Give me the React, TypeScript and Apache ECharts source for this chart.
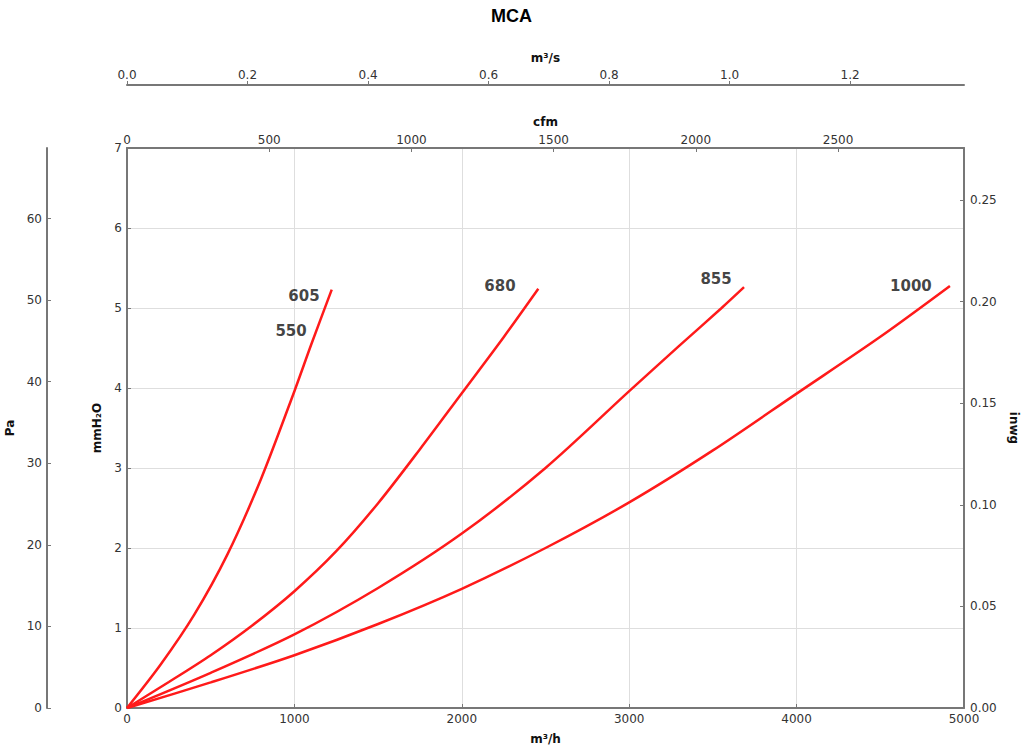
import React, { useEffect, useRef } from "react";
import * as echarts from "echarts";

// Flow (m³/h) vs pressure (mmH2O)
const curve605: number[][] = [
  [0, 0], [200, 0.54], [400, 1.16], [600, 1.92], [800, 2.86], [1000, 3.96],
  [1100, 4.54], [1223, 5.23],
];
const curve680: number[][] = [
  [0, 0], [250, 0.325], [500, 0.66], [750, 1.035], [1000, 1.46], [1250, 1.96],
  [1500, 2.56], [1750, 3.235], [2000, 3.935], [2250, 4.635], [2457, 5.24],
];
const curve855: number[][] = [
  [0, 0], [500, 0.44], [1000, 0.92], [1500, 1.5], [2000, 2.18], [2500, 3.0],
  [3000, 3.96], [3300, 4.53], [3552, 5.0], [3686, 5.26],
];
const curve1000: number[][] = [
  [0, 0], [500, 0.32], [1000, 0.66], [1500, 1.05], [2000, 1.49], [2500, 2.0],
  [3000, 2.57], [3500, 3.22], [4000, 3.93], [4500, 4.64], [4916, 5.275],
];
const curves = [curve605, curve680, curve855, curve1000];

// Curve annotations (text, m³/h, mmH2O)
const labelTexts = ["605", "550", "680", "855", "1000"];
const labelFlows = [1057, 980, 2228, 3519, 4683];
const labelPressures = [5.15, 4.71, 5.275, 5.36, 5.275];

// Axis ranges / unit conversions
const flowMax = 5000; // m³/h
const flowInterval = 1000;
const pressureMax = 7; // mmH2O
const M3H_PER_CFM = 1.69901;
const M3H_PER_M3S = 3600;
const PA_PER_MMH2O = 9.80665;
const MMH2O_PER_INWG = 25.4;

const FONT = "DejaVu Sans";
const axisColor = "#777";
const labelColor = "#333";

export default function App() {
  const ref = useRef<HTMLDivElement>(null);
  useEffect(() => {
    if (!ref.current) return;
    const chart = echarts.init(ref.current, undefined, { renderer: "svg" });
    const axisLine = { show: true, onZero: false, lineStyle: { color: axisColor, width: 2 } };
    const axisTick = { show: true, inside: true, length: 4, lineStyle: { color: axisColor, width: 1 } };
    const axisLabel = { color: labelColor, fontSize: 12, fontFamily: FONT };
    const nameTextStyle = { color: "#111", fontSize: 12, fontWeight: "bold", fontFamily: FONT };
    const plain = (v: number) => String(v);

    const option: any = {
      animation: false,
      backgroundColor: "#fff",
      title: {
        text: "MCA",
        left: "center",
        top: 2,
        textStyle: { fontSize: 18, fontWeight: "bold", fontFamily: "Liberation Sans", color: "#000" },
      },
      grid: {
        left: 127, right: 59, top: 148, bottom: 40,
        containLabel: false, outerBoundsMode: "none",
      },
      xAxis: [
        {
          type: "value",
          position: "bottom",
          min: 0,
          max: flowMax,
          interval: flowInterval,
          name: "m³/h",
          nameLocation: "middle",
          nameGap: 25,
          nameTextStyle,
          axisLine,
          axisTick,
          axisLabel: { ...axisLabel, margin: 5, formatter: plain },
          splitLine: { show: true, lineStyle: { color: "#dedede", width: 1 } },
        },
        {
          type: "value",
          position: "top",
          min: 0,
          max: flowMax / M3H_PER_CFM,
          interval: 500,
          name: "cfm",
          nameLocation: "middle",
          nameGap: 20,
          nameTextStyle,
          axisLine,
          axisTick,
          axisLabel: { ...axisLabel, margin: 2, showMaxLabel: false, formatter: plain },
          splitLine: { show: false },
        },
        {
          type: "value",
          position: "top",
          offset: 63,
          min: 0,
          max: flowMax / M3H_PER_M3S,
          interval: 0.2,
          name: "m³/s",
          nameLocation: "middle",
          nameGap: 21,
          nameTextStyle,
          axisLine,
          axisTick: { ...axisTick, inside: false },
          axisLabel: {
            ...axisLabel,
            margin: 4,
            showMaxLabel: false,
            formatter: (v: number) => v.toFixed(1),
          },
          splitLine: { show: false },
        },
      ],
      yAxis: [
        {
          type: "value",
          position: "left",
          min: 0,
          max: pressureMax,
          interval: 1,
          name: "mmH₂O",
          nameLocation: "middle",
          nameGap: 14,
          nameTextStyle,
          axisLine,
          axisTick,
          axisLabel: { ...axisLabel, margin: 5 },
          splitLine: { show: true, lineStyle: { color: "#dedede", width: 1 } },
        },
        {
          type: "value",
          position: "left",
          offset: 80,
          min: 0,
          max: pressureMax * PA_PER_MMH2O,
          interval: 10,
          name: "Pa",
          nameLocation: "middle",
          nameGap: 23,
          nameTextStyle,
          axisLine,
          axisTick,
          axisLabel: { ...axisLabel, margin: 5, showMaxLabel: false },
          splitLine: { show: false },
        },
        {
          type: "value",
          position: "right",
          min: 0,
          max: pressureMax / MMH2O_PER_INWG,
          interval: 0.05,
          name: "inwg",
          nameLocation: "middle",
          nameGap: 42,
          nameRotate: -90,
          nameTextStyle,
          axisLine,
          axisTick,
          axisLabel: {
            ...axisLabel,
            margin: 6,
            showMaxLabel: false,
            formatter: (v: number) => v.toFixed(2),
          },
          splitLine: { show: false },
        },
      ],
      series: [
        ...curves.map((c, i) => ({
          type: "line",
          name: labelTexts[i],
          xAxisIndex: 0,
          yAxisIndex: 0,
          data: c,
          smooth: 0.3,
          symbol: "none",
          lineStyle: { color: "#ff1a1a", width: 2.5 },
          z: 3,
        })),
        {
          type: "scatter",
          xAxisIndex: 0,
          yAxisIndex: 0,
          symbolSize: 0,
          data: labelTexts.map((t, i) => ({ name: t, value: [labelFlows[i], labelPressures[i]] })),
          label: {
            show: true,
            position: "inside",
            formatter: (p: any) => p.name,
            color: "#111",
            fontSize: 15,
            fontWeight: "bold",
            fontFamily: FONT,
          },
          z: 4,
        },
      ],
    };
    chart.setOption(option);
    return () => chart.dispose();
  }, []);
  return (
    <div
      ref={ref}
      style={{ position: "fixed", left: 0, top: 0, width: 1023, height: 748, background: "#fff" }}
    />
  );
}
